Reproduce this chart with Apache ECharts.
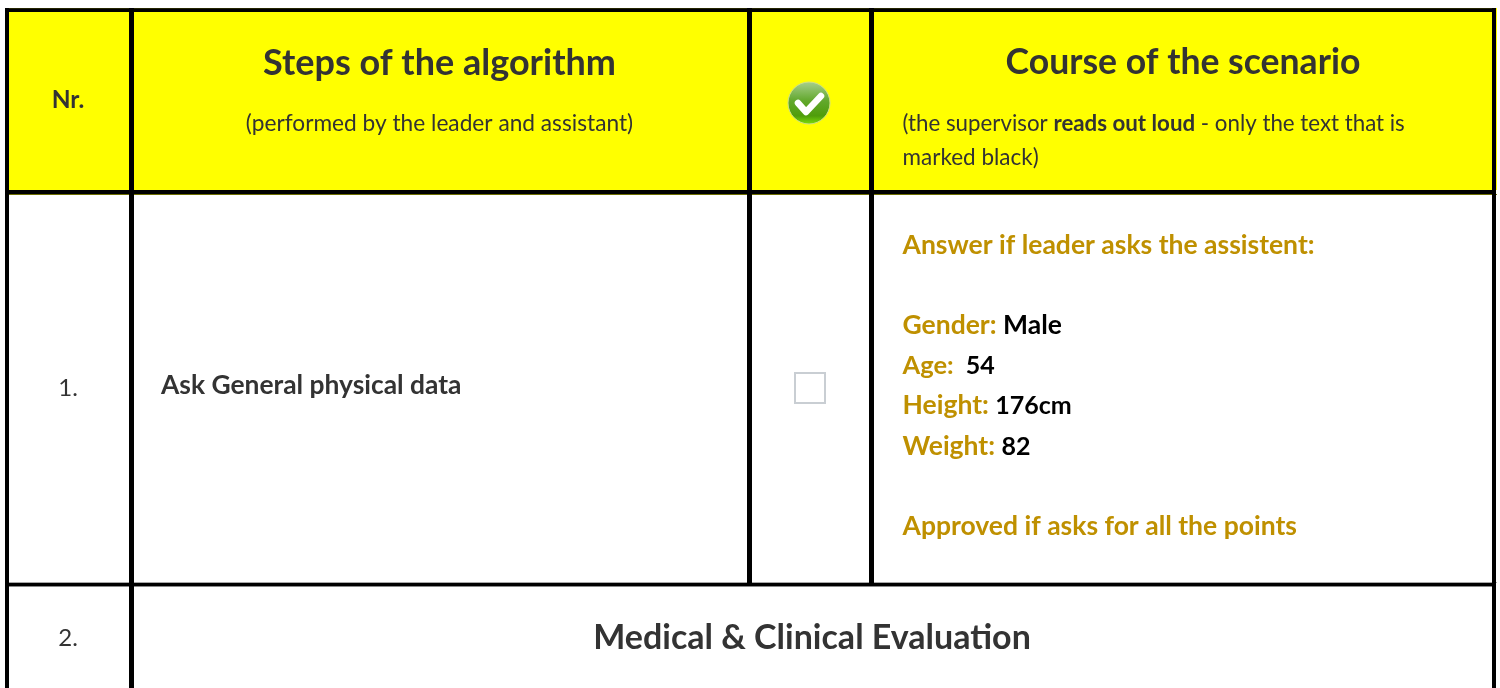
<!DOCTYPE html>
<html><head><meta charset="utf-8">
<style>html,body{margin:0;padding:0;background:#fff}#c{width:1500px;height:688px}</style>
<script src="https://cdn.jsdelivr.net/npm/echarts@6/dist/echarts.min.js"></script>
</head><body><div id="c"></div>
<script>
// Table content
const headerNr = 'Nr.';
const headerSteps = 'Steps of the algorithm';
const headerStepsNote = '(performed by the leader and assistant)';
const headerCourse = 'Course of the scenario';
const headerCourseNote = ['(the supervisor ', 'reads out loud', ' - only the text that is'];
const headerCourseNote2 = 'marked black)';
const rowNumbers = ['1.', '2.'];
const rowOneStep = 'Ask General physical data';
const rowOneScenario = [
  [['Answer if leader asks the assistent:', 'g']],
  [['Gender: ', 'g'], ['Male', 'k']],
  [['Age:', 'a'], ['  ', 's'], ['54', 'n']],
  [['Height: ', 'g'], ['176cm', 'n']],
  [['Weight: ', 'g'], ['82', 'n']],
  [['Approved if asks for all the points', 'g']]
];
const rowTwoTitle = 'Medical & Clinical Evaluation';

// Layout of the table, in axis units
const colLines = [[5, 9], [129, 134], [747, 752], [869, 874], [1492, 1496]];
const rowLines = [[8, 12], [190, 194], [583, 586]];
const bottomEdge = 700;
const scenarioY = [245.5, 325.5, 365.5, 405.5, 446.5, 526.5];

const DARK = '#333333', GOLD = '#bf9000';
const rich = {
  b: {fontFamily:'Lato', fontWeight:700, fontSize:22.3, fill: DARK},
  r: {fontFamily:'Lato', fontWeight:400, fontSize:22.3, fill: DARK},
  g: {fontFamily:'Lato', fontWeight:700, fontSize:26.5, fill: GOLD},
  a: {fontFamily:'Lato', fontWeight:700, fontSize:25.5, fill: GOLD},
  s: {fontFamily:'Lato', fontWeight:700, fontSize:25, fill: GOLD},
  k: {fontFamily:'Lato', fontWeight:700, fontSize:26.5, fill: '#000000'},
  n: {fontFamily:'Lato', fontWeight:700, fontSize:25, fill: '#000000'}
};

const chart = echarts.init(document.getElementById('c'), null, {renderer:'canvas'});

function renderTable(params, api) {
  const P = (x, y) => api.coord([x, y]);
  const kids = [];
  const rect = (x0, y0, x1, y1, fill) => {
    const a = P(x0, y0), b = P(x1, y1);
    kids.push({type:'rect', shape:{x:a[0], y:a[1], width:b[0]-a[0], height:b[1]-a[1]}, style:{fill}});
  };
  const txt = (s, x, y, size, weight, align, fill) => {
    const a = P(x, y);
    kids.push({type:'text', style:{text:s, x:a[0], y:a[1], fontFamily:'Lato', fontSize:size, fontWeight:weight, fill:fill||DARK, align, verticalAlign:'middle'}});
  };
  const richTxt = (tokens, x, y) => {
    const a = P(x, y);
    kids.push({type:'text', style:{text:tokens.map(t=>'{'+t[1]+'|'+t[0]+'}').join(''), rich, x:a[0], y:a[1], align:'left', verticalAlign:'middle'}});
  };
  const left = colLines[0][0], right = colLines[4][1];
  // header fill
  rect(left, rowLines[0][0], right + 1, rowLines[1][0], '#ffff00');
  // horizontal rules
  rowLines.forEach(r => rect(left, r[0], right, r[1], '#000'));
  rect(left, rowLines[0][0], right, rowLines[0][0] + 1, '#262600');
  rect(left, rowLines[1][1], right + 1, rowLines[1][1] + 1, '#6e6e00');
  rect(left, rowLines[2][0] - 1, right + 1, rowLines[2][0], '#a8a8a8');
  rect(left, rowLines[2][1], right, rowLines[2][1] + 1, '#8a8a8a');
  // vertical rules
  colLines.forEach((c, i) => {
    const end = (i === 2 || i === 3) ? rowLines[2][0] : bottomEdge;
    rect(c[0], rowLines[0][0], c[1], end, '#000');
  });
  // header text
  txt(headerNr, 68, 100.5, 24.5, 700, 'center');
  txt(headerSteps, 439.5, 63, 36, 700, 'center');
  txt(headerStepsNote, 439.5, 124, 22.7, 400, 'center');
  txt(headerCourse, 1183, 63, 35.6, 700, 'center');
  richTxt([[headerCourseNote[0],'r'],[headerCourseNote[1],'b'],[headerCourseNote[2],'r']], 902.5, 124);
  txt(headerCourseNote2, 902.5, 158, 22.5, 400, 'left');
  // check icon
  const c = P(809, 103);
  kids.push({type:'circle', shape:{cx:c[0], cy:c[1], r:21}, style:{
    fill:{type:'linear',x:0,y:0,x2:0,y2:1,colorStops:[{offset:0,color:'#a8cf8e'},{offset:0.45,color:'#62a82c'},{offset:0.8,color:'#4f9d0a'},{offset:1,color:'#7fe00a'}]},
    stroke:'#cfe08a', lineWidth:1}});
  kids.push({type:'polyline', shape:{points:[P(798,103),P(806,112),P(821,96)]}, style:{fill:null, stroke:'#fff', lineWidth:6.5, lineCap:'round', lineJoin:'round'}});
  // checkbox
  const b0 = P(795, 373), b1 = P(825, 403);
  kids.push({type:'rect', shape:{x:b0[0], y:b0[1], width:b1[0]-b0[0], height:b1[1]-b0[1]}, style:{fill:'#fff', stroke:'#c9ced3', lineWidth:2}});
  // row 1
  txt(rowNumbers[0], 68, 388, 24, 400, 'center');
  txt(rowOneStep, 161, 385.5, 26.4, 700, 'left');
  rowOneScenario.forEach((line,i) => richTxt(line, 902.5, scenarioY[i]));
  // row 2
  txt(rowNumbers[1], 68, 638, 24, 400, 'center');
  txt(rowTwoTitle, 812, 638.5, 34, 700, 'center');
  return {type:'group', children:kids};
}

chart.setOption({
  animation:false,
  grid:{left:0,right:0,top:0,bottom:0},
  xAxis:{type:'value',min:0,max:1500,show:false},
  yAxis:{type:'value',min:0,max:688,inverse:true,show:false},
  series:[{type:'custom',coordinateSystem:'cartesian2d',clip:true,silent:true,data:[[0,0]],renderItem:renderTable}]
});
</script></body></html>
